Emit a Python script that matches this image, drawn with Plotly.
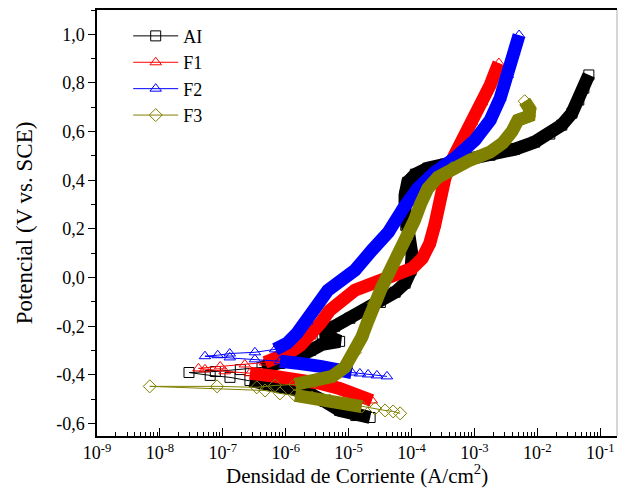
import plotly.graph_objects as go

# ---------------- data (current density A/cm2, potential V vs SCE) ----------------
# AI
ai_cat_i = [2.9e-8, 6.3e-8, 1.3e-7, 2.7e-7, 5.6e-7, 1.2e-6, 2.5e-6, 4.2e-6, 7.2e-6, 1.3e-5, 2.2e-5]
ai_cat_E = [-0.390, -0.402, -0.410, -0.423, -0.439, -0.456, -0.480, -0.509, -0.546, -0.567, -0.575]
ai_an_i = [7.6e-8, 1.9e-7, 4.2e-7, 8.1e-7, 1.4e-6, 2.5e-6, 3.8e-6, 7.2e-6, 3.8e-6, 6.0e-6,
           1.05e-5, 1.8e-5, 3.2e-5, 5.5e-5, 7.9e-5, 9.8e-5, 1.02e-4, 9.1e-5, 8.1e-5, 7.9e-5,
           7.9e-5, 8.7e-5, 1.15e-4, 1.82e-4, 3.4e-4, 7.1e-4, 1.78e-3, 4.4e-3, 9.1e-3, 1.58e-2,
           2.45e-2, 3.55e-2, 4.57e-2, 5.5e-2, 6.6e-2]
ai_an_E = [-0.386, -0.378, -0.369, -0.353, -0.332, -0.299, -0.274, -0.262, -0.233, -0.200,
           -0.167, -0.135, -0.102, -0.060, -0.023, 0.030, 0.092, 0.153, 0.215, 0.277,
           0.339, 0.392, 0.425, 0.450, 0.466, 0.483, 0.503, 0.528, 0.557, 0.590,
           0.627, 0.676, 0.730, 0.779, 0.833]

# F1
f1_cat_i = [4.1e-8, 5.2e-8, 1.07e-7, 2.7e-7, 6.8e-7, 1.7e-6, 3.55e-6, 7.2e-6, 1.26e-5, 1.82e-5, 2.34e-5]
f1_cat_E = [-0.373, -0.377, -0.385, -0.393, -0.406, -0.419, -0.435, -0.456, -0.476, -0.493, -0.505]
f1_an_i = [9.1e-8, 2.24e-7, 4.7e-7, 8.1e-7, 1.17e-6, 1.7e-6, 2.45e-6, 3.55e-6, 5.0e-6, 7.9e-6,
           1.26e-5, 2.2e-5, 3.8e-5, 6.6e-5, 1.02e-4, 1.48e-4, 1.95e-4, 2.34e-4, 2.63e-4, 2.95e-4,
           3.4e-4, 4.4e-4, 6.3e-4, 9.1e-4, 1.32e-3, 1.78e-3, 2.14e-3, 2.45e-3]
f1_an_E = [-0.365, -0.357, -0.349, -0.332, -0.307, -0.279, -0.242, -0.188, -0.135, -0.085,
           -0.052, -0.028, -0.003, 0.018, 0.038, 0.079, 0.141, 0.215, 0.285, 0.347,
           0.409, 0.483, 0.557, 0.639, 0.721, 0.791, 0.845, 0.882]

# F2
f2_cat_i = [5.2e-8, 1.29e-7, 3.24e-7, 8.1e-7, 1.7e-6, 3.55e-6, 7.2e-6, 1.12e-5, 1.51e-5, 2.04e-5, 2.82e-5, 4.07e-5]
f2_cat_E = [-0.323, -0.328, -0.336, -0.344, -0.353, -0.365, -0.377, -0.390, -0.394, -0.398, -0.402, -0.406]
f2_an_i = [8.3e-8, 1.29e-7, 3.24e-7, 6.8e-7, 1.05e-6, 1.51e-6, 2.19e-6, 3.16e-6, 4.68e-6, 7.2e-6,
           1.26e-5, 2.34e-5, 4.27e-5, 7.41e-5, 1.26e-4, 2.34e-4, 4.9e-4, 1.02e-3, 1.78e-3, 2.57e-3,
           3.39e-3, 4.27e-3, 5.13e-3]
f2_an_E = [-0.319, -0.312, -0.307, -0.295, -0.270, -0.229, -0.180, -0.114, -0.052, -0.011,
           0.030, 0.112, 0.186, 0.285, 0.367, 0.433, 0.491, 0.565, 0.647, 0.738,
           0.833, 0.927, 0.997]

# F3
f3_cat_i = [4.7e-7, 8.1e-7, 1.41e-6, 2.63e-6, 5.0e-6, 9.3e-6, 1.62e-5, 2.63e-5, 3.8e-5, 5.1e-5, 6.6e-5]
f3_cat_E = [-0.464, -0.476, -0.484, -0.493, -0.505, -0.517, -0.530, -0.538, -0.546, -0.550, -0.558]
f3_an_i = [6.9e-9, 8.1e-8, 3.47e-7, 6.8e-7, 1.41e-6, 2.95e-6, 5.5e-6, 8.7e-6, 1.26e-5, 1.62e-5,
           2.04e-5, 2.51e-5, 3.31e-5, 4.57e-5, 6.17e-5, 8.1e-5, 1.10e-4, 1.41e-4, 1.82e-4, 2.63e-4,
           4.4e-4, 8.5e-4, 1.78e-3, 2.82e-3, 3.98e-3, 4.9e-3, 7.4e-3, 7.6e-3, 6.3e-3]
f3_an_E = [-0.447, -0.447, -0.451, -0.443, -0.439, -0.427, -0.406, -0.369, -0.307, -0.245,
           -0.176, -0.106, -0.044, 0.030, 0.092, 0.158, 0.232, 0.306, 0.367, 0.413,
           0.450, 0.483, 0.516, 0.553, 0.602, 0.647, 0.664, 0.693, 0.725]

names = ["AI", "F1", "F2", "F3"]

y_tickvals = [-0.6, -0.4, -0.2, 0.0, 0.2, 0.4, 0.6, 0.8, 1.0]
y_ticktext = ["-0,6", "-0,4", "-0,2", "0,0", "0,2", "0,4", "0,6", "0,8", "1,0"]
x_tickvals = [1e-9, 1e-8, 1e-7, 1e-6, 1e-5, 1e-4, 1e-3, 1e-2, 1e-1]
x_ticktext = ["10<sup>-9</sup>", "10<sup>-8</sup>", "10<sup>-7</sup>", "10<sup>-6</sup>",
              "10<sup>-5</sup>", "10<sup>-4</sup>", "10<sup>-3</sup>", "10<sup>-2</sup>",
              "10<sup>-1</sup>"]
x_title = "Densidad de Corriente (A/cm<sup>2</sup>)"
y_title = "Potencial (V vs. SCE)"

# ---------------- styling ----------------
series = [
    (names[0], ai_cat_i, ai_cat_E, ai_an_i, ai_an_E, "#000000", "square-open", 10, (3, None), (2, None)),
    (names[1], f1_cat_i, f1_cat_E, f1_an_i, f1_an_E, "#FF0000", "triangle-up-open", 10, (3, None), (2, None)),
    (names[2], f2_cat_i, f2_cat_E, f2_an_i, f2_an_E, "#0000FF", "triangle-up-open", 10, (3, 8), (3, None)),
    (names[3], f3_cat_i, f3_cat_E, f3_an_i, f3_an_E, "#808000", "diamond-open", 10, (2, 7), (4, None)),
]

FONT = "Liberation Serif, Times New Roman, serif"
fig = go.Figure()

for name, ci, cE, ai, aE, col, sym, msz, cs, asl in series:
    # dense band (overlapping markers in the original)
    bx = list(reversed(ci[cs[0]:cs[1]])) + [None] + ai[asl[0]:asl[1]]
    by = list(reversed(cE[cs[0]:cs[1]])) + [None] + aE[asl[0]:asl[1]]
    fig.add_trace(go.Scatter(x=bx, y=by, mode="lines", showlegend=False, hoverinfo="skip",
                             line=dict(color=col, width=13), connectgaps=False))
    mx = list(reversed(ci)) + ai
    my = list(reversed(cE)) + aE
    fig.add_trace(go.Scatter(x=mx, y=my, mode="lines+markers", name=name,
                             line=dict(color=col, width=1),
                             marker=dict(symbol=sym, size=msz, color=col,
                                         line=dict(width=1, color=col))))

minor_x = [m * 10.0 ** e for e in range(-9, -1 + 1) for m in range(2, 10)]

fig.update_layout(
    width=618, height=491,
    margin=dict(l=97, r=1, t=10, b=55),
    paper_bgcolor="white", plot_bgcolor="white",
    font=dict(family=FONT, size=18, color="black"),
    showlegend=True,
    legend=dict(x=0.06, y=0.982, xanchor="left", yanchor="top",
                font=dict(family=FONT, size=18, color="black"),
                itemwidth=45,
                bgcolor="rgba(0,0,0,0)", tracegroupgap=0),
    xaxis=dict(type="log", range=[-9, -0.733], showgrid=False, zeroline=False,
               showline=True, linecolor="black", linewidth=1.5, mirror=True,
               tickmode="array", tickvals=x_tickvals, ticktext=x_ticktext,
               ticks="inside", ticklen=8, tickwidth=1, tickcolor="black",
               tickfont=dict(family=FONT, size=18),
               minor=dict(tickmode="array", tickvals=minor_x, ticks="inside",
                          ticklen=4, tickwidth=1, tickcolor="black", showgrid=False)),
    yaxis=dict(range=[-0.651, 1.10], showgrid=False, zeroline=False,
               showline=True, linecolor="black", linewidth=1.5, mirror=False,
               tickmode="array", tickvals=y_tickvals, ticktext=y_ticktext,
               ticks="outside", ticklen=7, tickwidth=1, tickcolor="black",
               tickfont=dict(family=FONT, size=18),
               minor=dict(dtick=0.1, tick0=0.1, ticks="outside", ticklen=4, tickwidth=1,
                          tickcolor="black", showgrid=False),
               title=dict(text=y_title, font=dict(family=FONT, size=23), standoff=17)),
    annotations=[dict(text=x_title, xref="paper", yref="paper", x=0.5, y=-0.127,
                      xanchor="center", yanchor="bottom", showarrow=False,
                      font=dict(family=FONT, size=21, color="black"))],
    shapes=[dict(type="line", xref="paper", yref="paper", x0=1, x1=1, y0=0, y1=1,
                 line=dict(color="#c8c8c8", width=1.5))],
)

fig.write_html("out.html")
